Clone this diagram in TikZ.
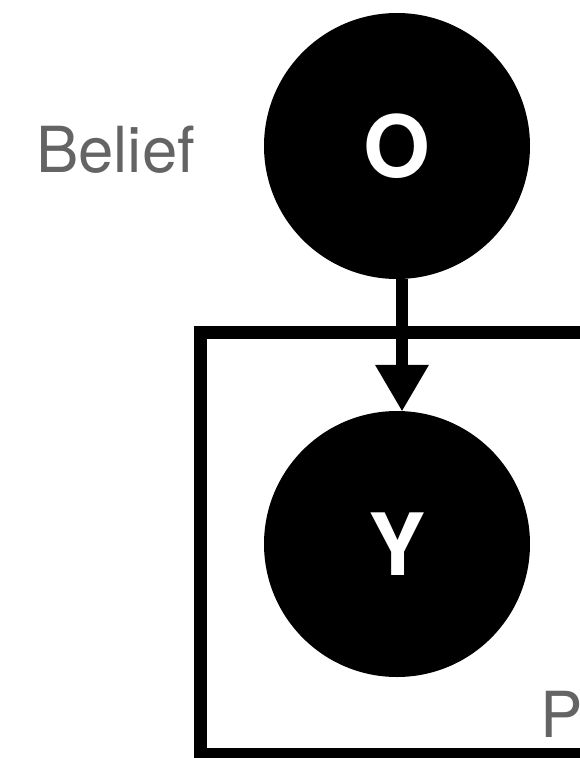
\documentclass[tikz,border=0pt]{standalone}
\usepackage{fontspec}
\setmainfont{TeX Gyre Heros}
\usetikzlibrary{arrows.meta}
\definecolor{labelgray}{RGB}{100,100,100}
\tikzset{
  var/.style={circle, fill=black, draw=none, minimum size=266pt, inner sep=0pt,
    text=white, font=\fontsize{86}{90}\selectfont\bfseries},
  lbl/.style={text=labelgray, font=\fontsize{63.5}{70}\selectfont, inner sep=0pt},
  plate/.style={draw=black, line width=13pt, line join=miter},
  edge/.style={draw=black, line width=12.7pt,
    -{Triangle[width=54pt,length=46pt,line width=0pt]}}
}
\begin{document}
\begin{tikzpicture}[x=1pt,y=-1pt]
\useasboundingbox (0,0) rectangle (580,758);
\begin{scope}
\clip (0,0) rectangle (580,758);
\draw[plate] (200.5,332.5) rectangle (640,754.5);
\end{scope}
\node[var] (O) at (397,146) {O};
\node[var] (Y) at (397,544) {Y};
\draw[edge] ([xshift=5pt]O.south) -- ([xshift=5pt]Y.north);
\node[lbl, anchor=base west] (belief) at (36,172) {Belief};
\node[lbl, anchor=base west] (P) at (540,737) {P};
\end{tikzpicture}
\end{document}
